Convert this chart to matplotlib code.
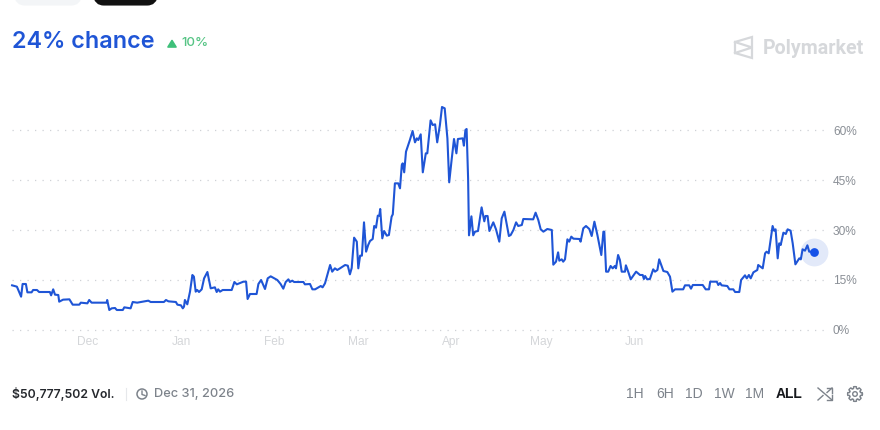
import matplotlib
matplotlib.use("Agg")
import matplotlib.pyplot as plt
from matplotlib.patches import FancyBboxPatch, Circle, Polygon
import numpy as np

plt.rcParams['font.family'] = ['Inter', 'DejaVu Sans']

# days since Dec 1
days = [-25.3,-23.7,-22.3,-21.8,-20.7,-20.2,-18.8,-18.3,-17.0,-16.3,-12.7,-12.3,-11.6,-11.0,-9.9,-9.6,-8.3,-6.2,-5.1,-2.9,
        -2.4,-0.2,0.4,1.2,6.2,6.4,7.1,7.9,9.0,9.6,11.6,12.1,14.2,14.9,16.4,20.1,20.9,25.3,26.0,26.8,
        29.3,29.8,31.0,31.6,32.0,32.3,33.1,34.0,34.8,35.3,35.9,36.4,37.0,37.9,38.7,39.8,40.9,42.3,42.9,43.4,
        44.0,44.9,47.9,48.8,49.6,51.8,52.7,53.2,54.0,56.2,56.8,57.7,59.0,59.9,60.9,63.1,64.2,65.1,65.9,66.8,
        67.3,68.1,68.7,71.8,72.3,74.0,74.8,75.7,77.6,78.2,79.0,80.7,81.4,82.3,83.1,84.0,85.7,86.6,87.3,87.9,
        88.7,89.6,90.1,90.7,91.3,92.0,92.7,93.4,94.0,94.9,95.4,96.0,96.6,97.1,97.4,98.1,98.7,99.6,100.3,101.2,
        101.6,102.3,103.4,104.0,104.6,104.9,105.4,106.0,107.3,108.2,109.0,109.6,110.1,110.9,111.6,112.6,113.1,114.2,114.9,115.7,
        116.4,117.3,118.0,118.9,119.8,120.4,121.2,122.0,122.8,123.3,124.9,125.3,125.8,126.2,126.7,127.0,127.8,128.4,129.0,130.0,
        131.2,132.1,132.5,133.2,133.8,135.1,136.0,137.1,137.9,138.8,140.3,140.9,141.8,142.7,143.4,144.6,145.1,148.4,149.2,150.1,
        150.9,151.8,153.1,154.6,155.1,156.0,156.7,157.1,157.9,158.4,159.0,159.8,160.4,161.1,161.8,163.8,164.2,165.1,166.0,167.1,
        167.9,168.8,169.8,171.1,171.8,172.1,172.7,173.4,174.2,174.9,175.6,176.0,176.7,177.3,177.9,179.0,179.3,180.1,180.9,182.7,
        184.0,184.9,185.3,185.7,186.4,187.3,188.4,189.0,189.8,190.4,191.8,193.1,194.0,194.8,195.7,198.4,199.0,200.4,201.0,201.6,
        204.9,205.9,207.0,207.4,209.6,210.1,210.7,211.2,213.1,213.8,215.1,215.7,217.1,217.7,219.0,219.6,220.3,220.9,221.8,223.1,
        223.4,224.9,225.7,226.2,226.9,227.6,228.2,228.7,229.2,229.9,230.4,230.9,231.8,232.6,233.2,234.2,234.9,235.8,237.1,237.6,
        238.2,239.0,239.8,240.4,241.9]
chance = [13.4,13.0,10.0,13.8,13.8,11.3,11.3,12.0,12.0,11.4,11.4,10.4,12.2,10.6,10.5,8.5,9.1,9.2,7.6,7.6,
          8.2,8.0,9.0,8.2,8.2,9.0,6.0,6.5,6.6,6.0,6.0,6.8,6.5,8.4,8.2,8.8,8.4,8.4,9.0,8.6,
          8.4,7.6,7.4,6.5,7.0,9.0,7.7,11.5,16.5,16.0,11.5,12.0,11.4,12.2,15.5,17.4,12.5,12.8,11.4,12.2,
          11.5,12.0,12.0,14.4,13.7,14.5,14.5,9.3,10.8,10.8,13.8,15.0,12.3,15.5,16.1,15.0,13.8,12.4,14.4,15.2,
          14.4,14.8,14.4,14.4,13.7,13.8,12.2,12.2,13.2,12.8,14.0,19.5,17.5,18.5,18.0,18.5,19.5,19.3,16.7,18.6,
          27.7,26.5,18.5,22.3,22.3,32.3,23.5,25.5,26.7,27.3,31.2,30.7,34.3,34.3,36.3,27.5,29.7,28.3,28.5,34.0,
          34.7,44.0,44.0,42.5,49.5,50.0,47.3,53.5,57.0,59.7,56.3,57.5,57.0,58.7,47.3,53.0,53.0,62.9,61.5,61.7,
          56.3,61.5,66.9,66.5,57.5,44.3,51.0,57.3,53.0,57.3,57.5,55.3,60.0,60.3,45.5,28.4,34.1,28.4,29.5,29.7,
          36.8,32.6,34.2,34.2,29.7,32.3,30.2,26.5,33.5,35.5,28.2,28.5,30.0,32.3,31.2,31.5,33.3,33.2,35.2,33.0,
          30.2,29.5,30.3,30.0,19.6,20.5,23.3,20.8,21.2,20.5,21.2,27.2,26.5,28.0,27.4,27.3,26.5,30.5,31.2,30.3,
          28.2,32.5,28.5,22.5,29.5,29.5,17.5,17.5,19.2,18.5,19.2,18.5,22.5,21.0,17.5,17.5,19.4,17.4,15.2,17.5,
          16.5,16.5,15.3,16.2,15.2,15.3,18.2,17.5,18.0,21.2,17.7,17.4,16.0,11.5,12.2,12.2,13.4,13.4,12.4,13.5,
          13.5,12.2,12.2,14.5,14.5,13.5,14.1,13.4,13.2,12.2,12.2,11.4,11.4,15.0,16.4,15.5,16.5,15.5,17.3,18.0,
          19.5,18.5,23.0,23.5,23.0,27.5,31.2,29.8,30.2,21.5,26.0,25.5,29.2,28.8,30.2,29.8,26.0,19.7,21.5,21.2,
          24.2,23.8,25.4,23.5,23.5]

month_days = [0, 31, 62, 90, 121, 151, 182]
month_labels = ['Dec', 'Jan', 'Feb', 'Mar', 'Apr', 'May', 'Jun']
pct_ticks = [0, 15, 30, 45, 60]
ranges = ['1H', '6H', '1D', '1W', '1M', 'ALL']

W, H = 880, 430
BLUE = '#1f55d6'
SANS = ['Liberation Sans', 'DejaVu Sans']
fig = plt.figure(figsize=(W / 100, H / 100), dpi=100, facecolor='white')

# overlay in pixel coordinates for the page furniture
page = fig.add_axes([0, 0, 1, 1])
page.set_xlim(0, W)
page.set_ylim(H, 0)
page.axis('off')

# chart axes: x 12..826 px, y 100..330 px
ax = fig.add_axes([12 / W, (H - 330) / H, 814 / W, 230 / H])
ax.patch.set_alpha(0)
ax.set_xlim(-76 / 3, 246)
ax.set_ylim(0, 69)
for s in ax.spines.values():
    s.set_visible(False)
ax.set_xticks(month_days, month_labels, family=SANS)
ax.set_yticks(pct_ticks, [f'{p}%' for p in pct_ticks], family=SANS)
ax.yaxis.tick_right()
ax.tick_params(axis='both', length=0)
ax.tick_params(axis='x', labelsize=8.6, labelcolor='#d4d6d9', pad=4)
ax.tick_params(axis='y', labelsize=8.6, labelcolor='#8a8f96', pad=5)
for y in pct_ticks:
    ax.axhline(y, color='#cfd1d6', linewidth=0.9, linestyle=(0, (1, 5)), clip_on=False, zorder=0)

ax.plot(days, chance, color=BLUE, linewidth=1.5, solid_joinstyle='round', clip_on=False)
ax.scatter(days[-1], chance[-1], s=400, color=BLUE, alpha=0.13, linewidths=0, clip_on=False, zorder=3)
ax.scatter(days[-1], chance[-1], s=40, color='#1552e8', linewidths=0, clip_on=False, zorder=4)

# tab pills cut off by the top edge
page.add_patch(FancyBboxPatch((20, -20), 56, 20, boxstyle='round,pad=0,rounding_size=5',
                              fc='#f3f5f7', ec='#f3f5f7', lw=8))
page.add_patch(FancyBboxPatch((99, -20), 53, 20, boxstyle='round,pad=0,rounding_size=5',
                              fc='#111111', ec='#111111', lw=8))

# headline
page.text(12, 42, '24% chance', fontsize=16.8, fontweight='semibold', color=BLUE, va='center', ha='left')
page.add_patch(Polygon([(168, 47), (172, 40.5), (176, 47)], closed=True, fc='#3fc07a', ec='#3fc07a',
                       lw=1.2, joinstyle='round'))
page.text(181, 43.5, '10%', fontsize=9.6, fontweight='medium', color='#55c484', va='center', ha='left')

# polymarket mark
logo = '#d6d8db'
page.add_patch(Polygon([(735, 42), (752, 37), (752, 58), (735, 53)], closed=True, fc='none', ec=logo, lw=1.6))
page.plot([735, 752, 735], [42, 47.5, 53], color=logo, lw=1.6)
page.text(763, 48, 'Polymarket', fontsize=14.1, family=['Roboto', 'DejaVu Sans'], fontweight='bold',
          color=logo, va='center', ha='left')

# footer left
page.text(12, 394, '$50,777,502 Vol.', fontsize=8.8, fontweight='semibold', color='#25282d', va='center', ha='left')
page.plot([125.5, 125.5], [388, 400], color='#e6e8eb', lw=0.8)
page.add_patch(Circle((142, 394), 5, fc='none', ec='#7d838b', lw=1.1))
page.plot([142, 142, 145], [391, 394.5, 395.5], color='#7d838b', lw=1)
page.text(154, 394, 'Dec 31, 2026', fontsize=9.2, fontweight='medium', color='#7d838b', va='center', ha='left')

# range buttons
range_x = [635, 665, 694, 724, 755, 789]
for x, label in zip(range_x, ranges):
    active = label == 'ALL'
    page.text(x, 394, label, fontsize=10, ha='center', va='center', family=SANS,
              fontweight='bold' if active else 'normal',
              color='#16181c' if active else '#7d838b')

# shuffle icon
icon = '#7d838b'
page.plot([818, 832], [388, 400], color=icon, lw=1)
page.plot([818, 823], [400, 395.5], color=icon, lw=1)
page.plot([827, 832], [392.5, 388], color=icon, lw=1)
page.plot([827, 832, 832], [388, 388, 393], color=icon, lw=1)
page.plot([827, 832, 832], [400, 400, 395], color=icon, lw=1)

# settings icon
angles = np.linspace(0, 2 * np.pi, 97)
radii = np.where(np.cos(8 * angles) > -0.1, 7.4, 5.6)
page.plot(855 + radii * np.cos(angles), 394 + radii * np.sin(angles), color=icon, lw=1, solid_joinstyle='round')
page.add_patch(Circle((855, 394), 2.3, fc='white', ec=icon, lw=1, zorder=5))

fig.savefig('out.png', dpi=100, facecolor='white')
